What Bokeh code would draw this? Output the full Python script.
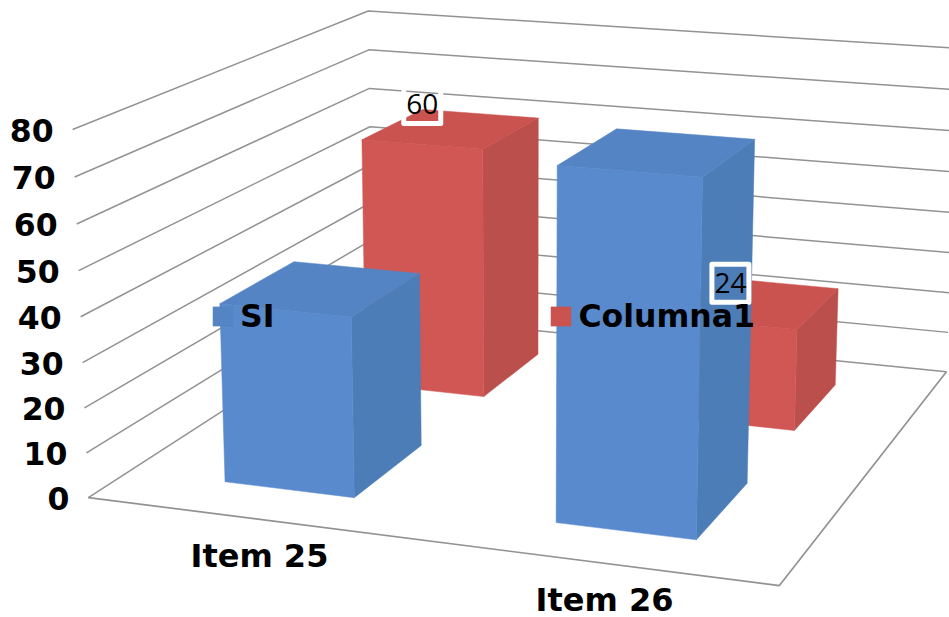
from bokeh.embed import file_html
from bokeh.resources import INLINE
from bokeh.models import Legend, LegendItem
from bokeh.plotting import figure
from bokeh.core.properties import value
import numpy as np

# Chart values
categories = ["Item 25", "Item 26"]
series_names = ["SI", "Columna1"]
si_values = [40, 76]
columna1_values = [60, 24]
y_ticks = [0, 10, 20, 30, 40, 50, 60, 70, 80]
shown_labels = [("Columna1", 0, 60), ("Columna1", 1, 24)]

# Camera: world (category position, depth, value) to page pixels
calib_world = np.array([
    (0, 0, 0), (2, 0, 0), (2, 1, 0), (0, 1, 0),
    (0, 0, 80), (0, 1, 80), (2, 1, 80), (0, 0, 40),
], float)
calib_page = np.array([
    (88, 496), (779, 586), (946, 370), (372, 315),
    (72, 129.5), (368, 9.8), (959, 48.4), (80, 316),
], float)


def solve_camera(world, page):
    rows, rhs = [], []
    for (x, z, v), (u, w) in zip(world, page):
        rows.append([x, z, v, 1, 0, 0, 0, 0, -u * x, -u * z, -u * v])
        rhs.append(u)
        rows.append([0, 0, 0, 0, x, z, v, 1, -w * x, -w * z, -w * v])
        rhs.append(w)
    sol = np.linalg.lstsq(np.array(rows), np.array(rhs), rcond=None)[0]
    return np.append(sol, 1).reshape(3, 4)


CAM = solve_camera(calib_world, calib_page)


def project(x, z, v):
    h = CAM @ np.array([x, z, v, 1.0])
    return h[0] / h[2], h[1] / h[2]


p = figure(width=949, height=617, x_range=(0, 949), y_range=(617, 0),
           output_backend="svg", toolbar_location=None, min_border=0,
           outline_line_color=None, background_fill_color="white",
           border_fill_color="white")
p.xaxis.visible = False
p.yaxis.visible = False
p.grid.visible = False

GRID = "#929292"

# Wall gridlines, running from the front-left edge to the back-left corner and across the back
for t in y_ticks:
    pts = [project(0, 0, t), project(0, 1, t), project(2, 1, t)]
    p.line([q[0] for q in pts], [q[1] for q in pts], line_color=GRID, line_width=1.5)

# Floor outline
floor = [project(0, 0, 0), project(2, 0, 0), project(2, 1, 0)]
p.line([q[0] for q in floor], [q[1] for q in floor], line_color=GRID, line_width=1.7)

BAR_HALF = 0.2
DEPTHS = {"SI": (0.125, 0.37), "Columna1": (0.625, 0.87)}
COLORS = {
    "SI": dict(front="#598ACD", top="#5484C4", side="#4D7DB7"),
    "Columna1": dict(front="#D15754", top="#CA524F", side="#BB4F4C"),
}


def draw_bar(series, cat_index, val):
    x0, x1 = cat_index + 0.5 - BAR_HALF, cat_index + 0.5 + BAR_HALF
    z0, z1 = DEPTHS[series]
    c = COLORS[series]
    faces = [
        ("side", [(x1, z0, 0), (x1, z1, 0), (x1, z1, val), (x1, z0, val)]),
        ("front", [(x0, z0, 0), (x1, z0, 0), (x1, z0, val), (x0, z0, val)]),
        ("top", [(x0, z0, val), (x1, z0, val), (x1, z1, val), (x0, z1, val)]),
    ]
    out = {}
    for name, corners in faces:
        pts = [project(*q) for q in corners]
        out[name] = p.patch([q[0] for q in pts], [q[1] for q in pts],
                            fill_color=c[name], line_color=c[name], line_width=0.5)
    return out


# Rear row first so the front row covers it
rear = [draw_bar("Columna1", i, v) for i, v in enumerate(columna1_values)]
front = [draw_bar("SI", i, v) for i, v in enumerate(si_values)]

# Value-axis labels
for t in y_ticks:
    u, w = project(0, 0, t)
    p.text([u - 19], [w + 0.5], text=[str(t)], text_font=value("DejaVu Sans"),
           text_font_style="bold", text_font_size="31.5px", text_color="black",
           text_align="right", text_baseline="middle")

# Category labels, set below the front floor edge
for i, name in enumerate(categories):
    u, w = project(i + 0.5, 0, 0)
    p.text([u + 9], [w + 38], text=[name], text_font=value("DejaVu Sans"),
           text_font_style="bold", text_font_size="32px", text_color="black",
           text_align="center", text_baseline="middle")

# Value labels inside white rounded frames
offsets = {0: (-30, -24), 1: (-25, -19)}
for series, i, v in shown_labels:
    u, w = project(i + 0.5, 0.75, v)
    dx, dy = offsets[i]
    p.rect([u + dx], [w + dy], width=37, height=38, fill_alpha=0, line_color="white",
           line_width=5, line_join="round")
    p.text([u + dx], [w + dy], text=[str(v)], text_font=value("Open Sans"),
           text_font_size="28px", text_color="black", text_align="center",
           text_baseline="middle")

# Legend across the middle of the plot
legend = Legend(items=[LegendItem(label=series_names[0], renderers=[front[0]["top"]]),
                       LegendItem(label=series_names[1], renderers=[rear[0]["top"]])],
                orientation="horizontal", location=(210, 283), glyph_width=25,
                glyph_height=24, label_standoff=5, spacing=274, padding=0, margin=0,
                background_fill_alpha=0, border_line_alpha=0,
                label_text_font="DejaVu Sans", label_text_font_style="bold",
                label_text_font_size="31.5px", label_text_color="black")
p.add_layout(legend, "center")

open("out.html", "w").write(file_html(p, INLINE))
